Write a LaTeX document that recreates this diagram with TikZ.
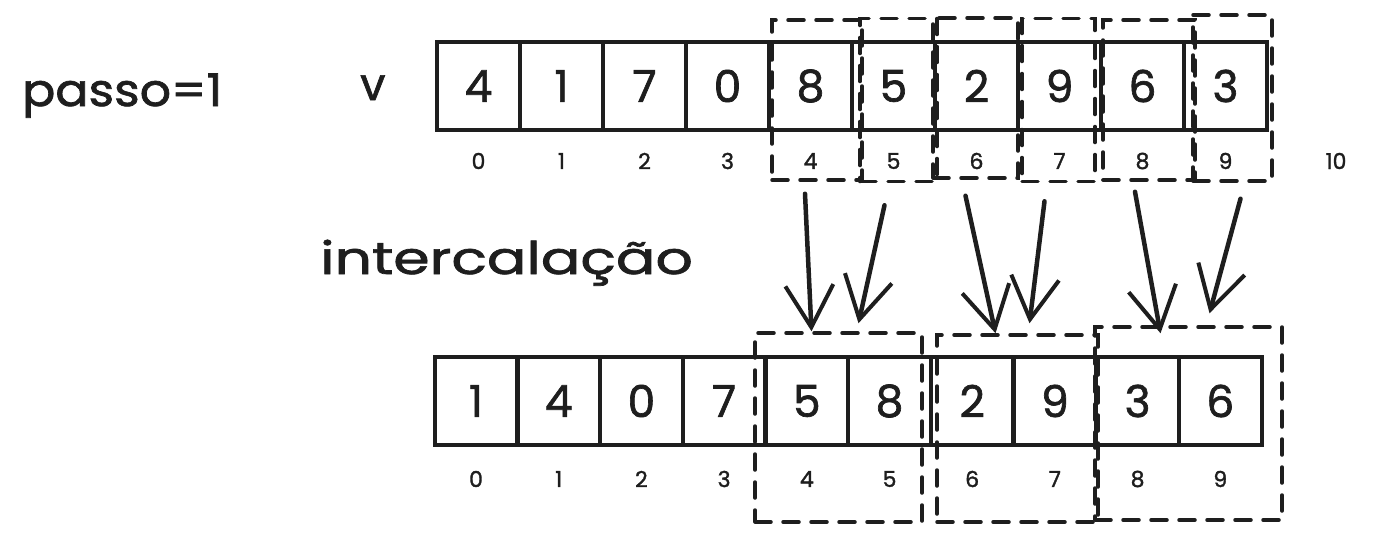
\documentclass[tikz,border=0pt]{standalone}
\usepackage{fontspec}
\setmainfont{Poppins}[FakeBold=1.5]
\usetikzlibrary{arrows.meta,calc}
\definecolor{ink}{HTML}{1E1E1E}
\tikzset{
  cell/.style={draw=ink, line width=4pt, minimum width=83pt, minimum height=88pt, inner sep=0pt, font=\fontsize{44}{44}\selectfont, text=ink},
  idx/.style={font=\fontsize{22}{22}\selectfont, text=ink, inner sep=0pt},
  dbox/.style={draw=ink, line width=3.5pt, dash pattern=on 16pt off 12pt, line cap=round, inner sep=0pt},
  big/.style={font=\fontsize{45}{45}\selectfont, text=ink, inner sep=0pt, anchor=base west},
  flow/.style={draw=ink, line width=4.5pt, line cap=round, -{Straight Barb[length=42pt,width=48pt,line width=4pt]}}
}
\begin{document}
\begin{tikzpicture}[x=1pt,y=-1pt]
\useasboundingbox (0,0) rectangle (1377,541);
% labels
\node[big] (passo) at (22,106) {\scalebox{1.09}[1]{passo=1}};
\node[big] (v) at (360,100) {v};
\node[big] (inter) at (320,274) {\scalebox{1.3}[1]{intercalação}};
% top array
\foreach \i/\d in {0/4,1/1,2/7,3/0,4/8,5/5,6/2,7/9,8/6,9/3}{
  \node[cell] (t\i) at ({478.5+83*\i},86) {\d};
  \node[idx] (ti\i) at ({478.5+83*\i},161) {\i};
}
\node[idx] (ti10) at (1336,161) {10};
% top dashed boxes
\node[dbox, minimum width=90pt, minimum height=160pt] (tb4) at (817,100) {};
\node[dbox, minimum width=77pt, minimum height=163pt] (tb5) at (898.5,100) {};
\node[dbox, minimum width=85pt, minimum height=160pt] (tb6) at (975.5,98) {};
\node[dbox, minimum width=73pt, minimum height=163pt] (tb7) at (1058.5,100) {};
\node[dbox, minimum width=92pt, minimum height=160pt] (tb8) at (1149,100) {};
\node[dbox, minimum width=79pt, minimum height=166pt] (tb9) at (1232.5,98) {};
% bottom array
\foreach \i/\d in {0/1,1/4,2/0,3/7,4/5,5/8,6/2,7/9,8/3,9/6}{
  \node[cell] (b\i) at ({476+82.7*\i},401) {\d};
  \node[idx] (bi\i) at ({476+82.7*\i},479) {\i};
}
% bottom dashed boxes
\node[dbox, minimum width=167pt, minimum height=189pt] (bb1) at (838.5,427.5) {};
\node[dbox, minimum width=161pt, minimum height=187pt] (bb2) at (1017.5,428.5) {};
\node[dbox, minimum width=187pt, minimum height=193pt] (bb3) at (1188.5,423.5) {};
% arrows
\draw[flow] ($(tb4.south)+(-12,12)$) -- ($(bb1.north)+(-27,0)$);
\draw[flow] ($(tb5.south)+(-14,22)$) -- ($(bb1.north)+(20,-8)$);
\draw[flow] ($(tb6.south)+(-10,16)$) -- ($(bb2.north)+(-22,0)$);
\draw[flow] ($(tb7.south)+(-14,18)$) -- ($(bb2.north)+(12,-10)$);
\draw[flow] ($(tb8.south)+(-14,10)$) -- ($(bb3.north)+(-28,8)$);
\draw[flow] ($(tb9.south)+(8,16)$) -- ($(bb3.north)+(21,-12)$);
\end{tikzpicture}
\end{document}
